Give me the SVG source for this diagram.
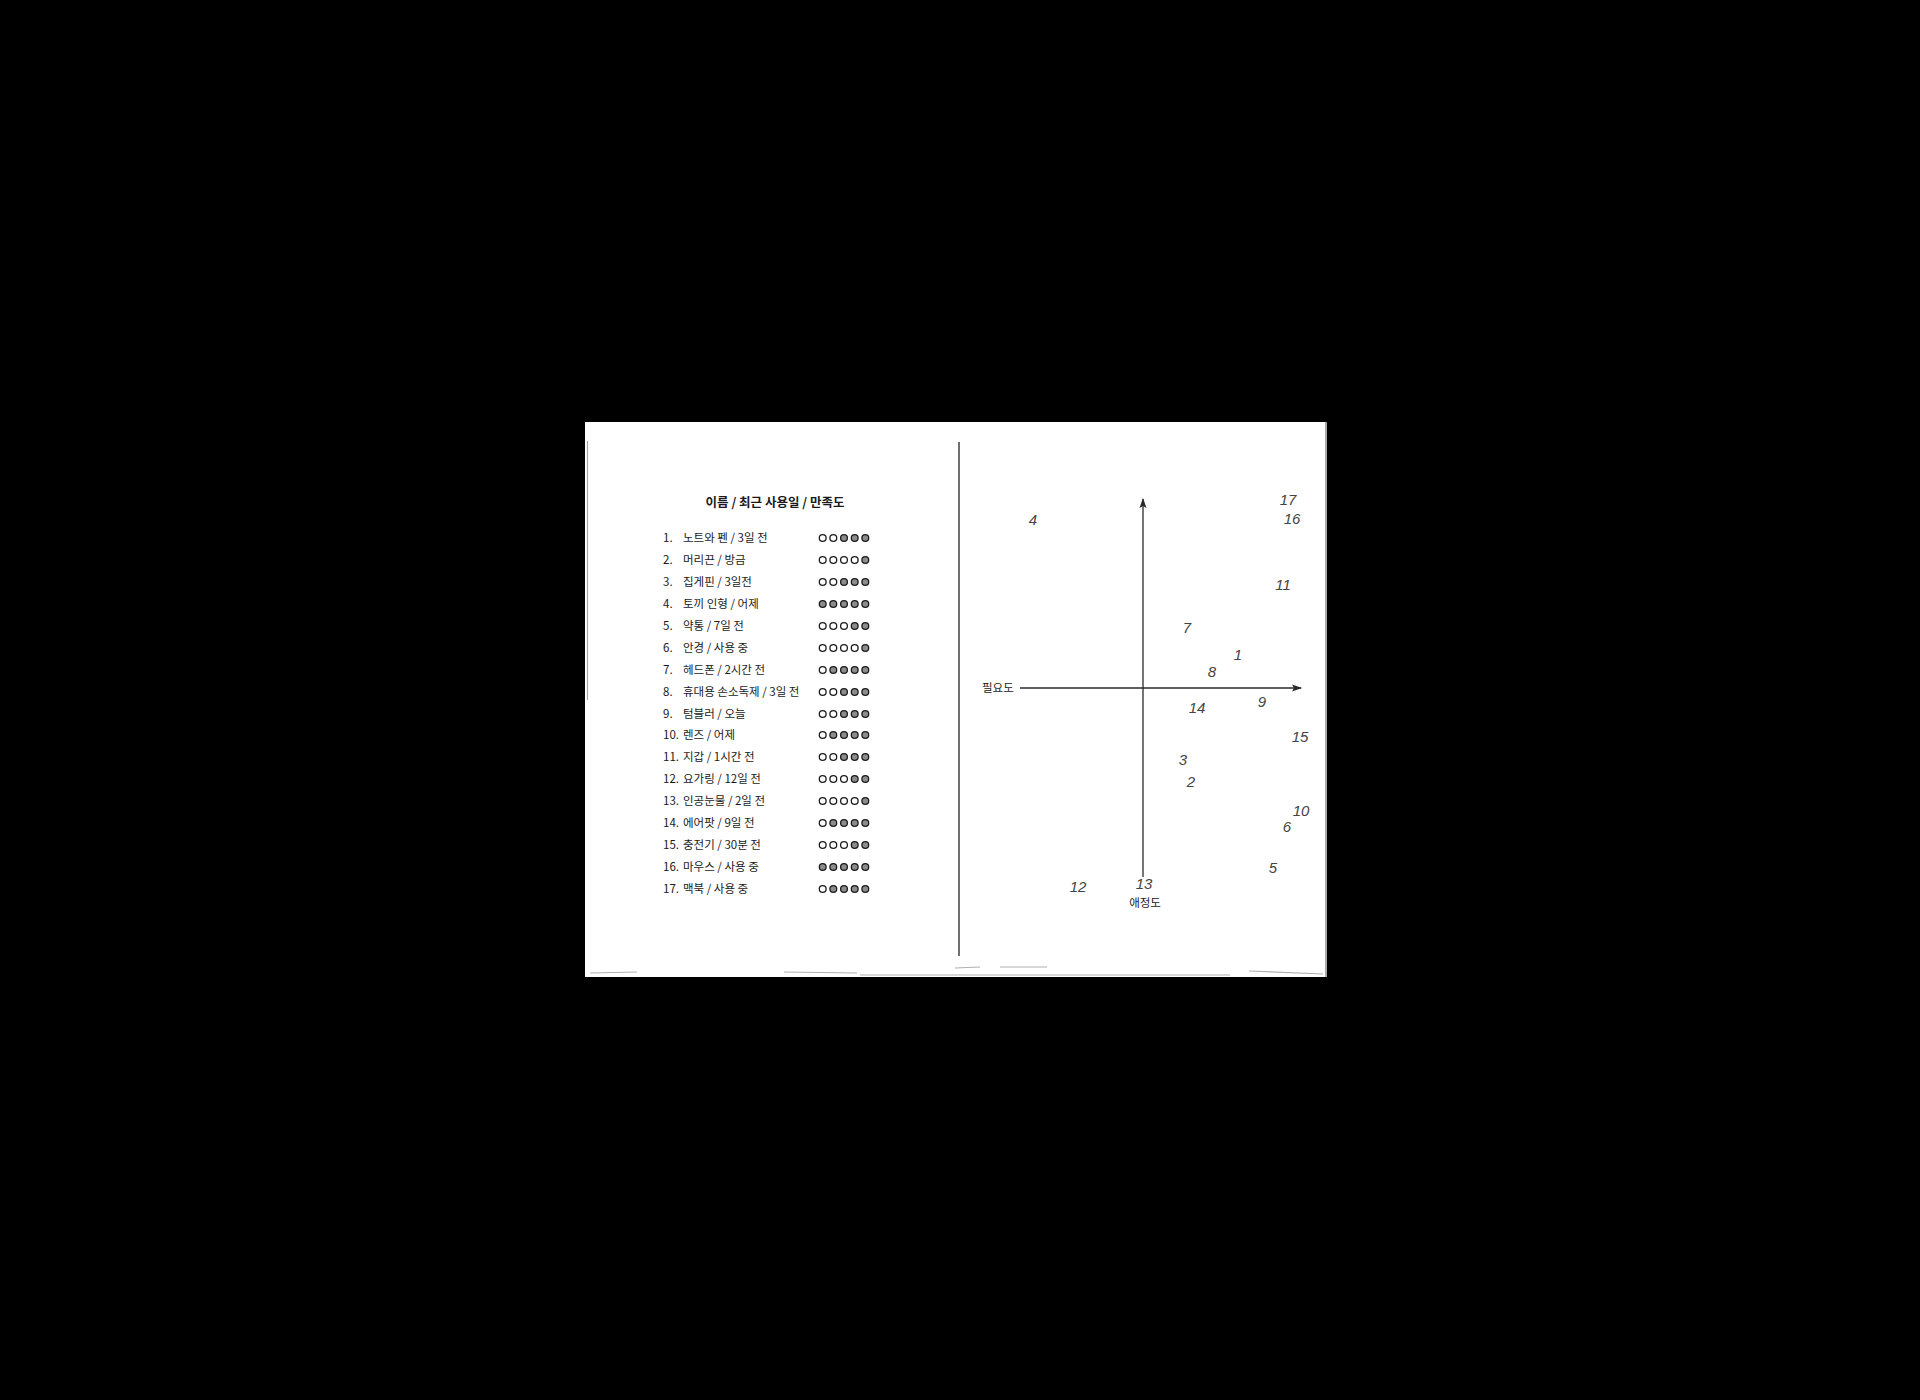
<svg xmlns="http://www.w3.org/2000/svg" width="1920" height="1400" viewBox="0 0 1920 1400">
<defs>
<style>
.t{font-family:"Noto Sans CJK KR","Noto Sans",sans-serif;fill:#1a1a1a}
.title{font-size:12.5px;font-weight:bold;text-anchor:middle}
.row{font-size:11.5px}
.lab{font-size:11.5px}
.hw{font-family:"Liberation Sans","DejaVu Sans",sans-serif;font-style:italic;font-size:15px;fill:#444;text-anchor:middle}
.e{fill:#fff;stroke:#1c1c1c;stroke-width:1.3}
.f{fill:#8c8c8c;stroke:#1c1c1c;stroke-width:1.3}
.ax{stroke:#2a2a2a;stroke-width:1.3;fill:none}
.smudge{stroke:#b0b0b0;stroke-width:1.2;fill:none}
</style>
<marker id="arr" viewBox="0 0 10 8" refX="9" refY="4" markerWidth="10" markerHeight="8" markerUnits="userSpaceOnUse" orient="auto">
<path d="M0,0.5 L10,4 L0,7.5 L2,4 Z" fill="#2a2a2a"/>
</marker>
</defs>
<rect x="0" y="0" width="1920" height="1400" fill="#000"/>
<g id="paper">
<rect x="585" y="422" width="742" height="555" fill="#fff"/>
<line x1="587.5" y1="441" x2="587.5" y2="700" stroke="#a8a8a8" stroke-width="1.2"/>
<line x1="1326" y1="422" x2="1326" y2="977" stroke="#555" stroke-width="1"/>
<path class="smudge" d="M590,973 L637,972"/>
<path class="smudge" d="M784,972 L857,973"/>
<path class="smudge" d="M955,968 L980,967"/>
<path class="smudge" d="M1000,967 L1047,967"/>
<path class="smudge" d="M860,975 L1230,975" stroke-width="0.6" stroke="#d0d0d0"/>
<path class="smudge" d="M1249,971 L1323,974" stroke-width="1.8"/>
<line id="divider" x1="959" y1="442" x2="959" y2="956" stroke="#222" stroke-width="1.3"/>
</g>
<g id="title"><text class="t title" x="775" y="507">이름 / 최근 사용일 / 만족도</text></g>
<g id="list">
<g id="r1"><text class="t row" x="663" y="542">1.</text><text class="t row" x="683" y="542">노트와 펜 / 3일 전</text></g>
<g id="r2"><text class="t row" x="663" y="564">2.</text><text class="t row" x="683" y="564">머리끈 / 방금</text></g>
<g id="r3"><text class="t row" x="663" y="586">3.</text><text class="t row" x="683" y="586">집게핀 / 3일전</text></g>
<g id="r4"><text class="t row" x="663" y="608">4.</text><text class="t row" x="683" y="608">토끼 인형 / 어제</text></g>
<g id="r5"><text class="t row" x="663" y="630">5.</text><text class="t row" x="683" y="630">약통 / 7일 전</text></g>
<g id="r6"><text class="t row" x="663" y="652">6.</text><text class="t row" x="683" y="652">안경 / 사용 중</text></g>
<g id="r7"><text class="t row" x="663" y="674">7.</text><text class="t row" x="683" y="674">헤드폰 / 2시간 전</text></g>
<g id="r8"><text class="t row" x="663" y="696">8.</text><text class="t row" x="683" y="696">휴대용 손소독제 / 3일 전</text></g>
<g id="r9"><text class="t row" x="663" y="718">9.</text><text class="t row" x="683" y="718">텀블러 / 오늘</text></g>
<g id="r10"><text class="t row" x="663" y="739">10.</text><text class="t row" x="683" y="739">렌즈 / 어제</text></g>
<g id="r11"><text class="t row" x="663" y="761">11.</text><text class="t row" x="683" y="761">지갑 / 1시간 전</text></g>
<g id="r12"><text class="t row" x="663" y="783">12.</text><text class="t row" x="683" y="783">요가링 / 12일 전</text></g>
<g id="r13"><text class="t row" x="663" y="805">13.</text><text class="t row" x="683" y="805">인공눈물 / 2일 전</text></g>
<g id="r14"><text class="t row" x="663" y="827">14.</text><text class="t row" x="683" y="827">에어팟 / 9일 전</text></g>
<g id="r15"><text class="t row" x="663" y="849">15.</text><text class="t row" x="683" y="849">충전기 / 30분 전</text></g>
<g id="r16"><text class="t row" x="663" y="871">16.</text><text class="t row" x="683" y="871">마우스 / 사용 중</text></g>
<g id="r17"><text class="t row" x="663" y="893">17.</text><text class="t row" x="683" y="893">맥북 / 사용 중</text></g>
</g>
<g id="ratings">
<g id="c1"><circle class="e" cx="822.7" cy="538" r="3.4"/><circle class="e" cx="833.3" cy="538" r="3.4"/><circle class="f" cx="844" cy="538" r="3.4"/><circle class="f" cx="854.7" cy="538" r="3.4"/><circle class="f" cx="865.3" cy="538" r="3.4"/></g>
<g id="c2"><circle class="e" cx="822.7" cy="560" r="3.4"/><circle class="e" cx="833.3" cy="560" r="3.4"/><circle class="e" cx="844" cy="560" r="3.4"/><circle class="e" cx="854.7" cy="560" r="3.4"/><circle class="f" cx="865.3" cy="560" r="3.4"/></g>
<g id="c3"><circle class="e" cx="822.7" cy="582" r="3.4"/><circle class="e" cx="833.3" cy="582" r="3.4"/><circle class="f" cx="844" cy="582" r="3.4"/><circle class="f" cx="854.7" cy="582" r="3.4"/><circle class="f" cx="865.3" cy="582" r="3.4"/></g>
<g id="c4"><circle class="f" cx="822.7" cy="604" r="3.4"/><circle class="f" cx="833.3" cy="604" r="3.4"/><circle class="f" cx="844" cy="604" r="3.4"/><circle class="f" cx="854.7" cy="604" r="3.4"/><circle class="f" cx="865.3" cy="604" r="3.4"/></g>
<g id="c5"><circle class="e" cx="822.7" cy="626" r="3.4"/><circle class="e" cx="833.3" cy="626" r="3.4"/><circle class="e" cx="844" cy="626" r="3.4"/><circle class="f" cx="854.7" cy="626" r="3.4"/><circle class="f" cx="865.3" cy="626" r="3.4"/></g>
<g id="c6"><circle class="e" cx="822.7" cy="648" r="3.4"/><circle class="e" cx="833.3" cy="648" r="3.4"/><circle class="e" cx="844" cy="648" r="3.4"/><circle class="e" cx="854.7" cy="648" r="3.4"/><circle class="f" cx="865.3" cy="648" r="3.4"/></g>
<g id="c7"><circle class="e" cx="822.7" cy="670" r="3.4"/><circle class="f" cx="833.3" cy="670" r="3.4"/><circle class="f" cx="844" cy="670" r="3.4"/><circle class="f" cx="854.7" cy="670" r="3.4"/><circle class="f" cx="865.3" cy="670" r="3.4"/></g>
<g id="c8"><circle class="e" cx="822.7" cy="692" r="3.4"/><circle class="e" cx="833.3" cy="692" r="3.4"/><circle class="f" cx="844" cy="692" r="3.4"/><circle class="f" cx="854.7" cy="692" r="3.4"/><circle class="f" cx="865.3" cy="692" r="3.4"/></g>
<g id="c9"><circle class="e" cx="822.7" cy="714" r="3.4"/><circle class="e" cx="833.3" cy="714" r="3.4"/><circle class="f" cx="844" cy="714" r="3.4"/><circle class="f" cx="854.7" cy="714" r="3.4"/><circle class="f" cx="865.3" cy="714" r="3.4"/></g>
<g id="c10"><circle class="e" cx="822.7" cy="735" r="3.4"/><circle class="f" cx="833.3" cy="735" r="3.4"/><circle class="f" cx="844" cy="735" r="3.4"/><circle class="f" cx="854.7" cy="735" r="3.4"/><circle class="f" cx="865.3" cy="735" r="3.4"/></g>
<g id="c11"><circle class="e" cx="822.7" cy="757" r="3.4"/><circle class="e" cx="833.3" cy="757" r="3.4"/><circle class="f" cx="844" cy="757" r="3.4"/><circle class="f" cx="854.7" cy="757" r="3.4"/><circle class="f" cx="865.3" cy="757" r="3.4"/></g>
<g id="c12"><circle class="e" cx="822.7" cy="779" r="3.4"/><circle class="e" cx="833.3" cy="779" r="3.4"/><circle class="e" cx="844" cy="779" r="3.4"/><circle class="f" cx="854.7" cy="779" r="3.4"/><circle class="f" cx="865.3" cy="779" r="3.4"/></g>
<g id="c13"><circle class="e" cx="822.7" cy="801" r="3.4"/><circle class="e" cx="833.3" cy="801" r="3.4"/><circle class="e" cx="844" cy="801" r="3.4"/><circle class="e" cx="854.7" cy="801" r="3.4"/><circle class="f" cx="865.3" cy="801" r="3.4"/></g>
<g id="c14"><circle class="e" cx="822.7" cy="823" r="3.4"/><circle class="f" cx="833.3" cy="823" r="3.4"/><circle class="f" cx="844" cy="823" r="3.4"/><circle class="f" cx="854.7" cy="823" r="3.4"/><circle class="f" cx="865.3" cy="823" r="3.4"/></g>
<g id="c15"><circle class="e" cx="822.7" cy="845" r="3.4"/><circle class="e" cx="833.3" cy="845" r="3.4"/><circle class="e" cx="844" cy="845" r="3.4"/><circle class="f" cx="854.7" cy="845" r="3.4"/><circle class="f" cx="865.3" cy="845" r="3.4"/></g>
<g id="c16"><circle class="f" cx="822.7" cy="867" r="3.4"/><circle class="f" cx="833.3" cy="867" r="3.4"/><circle class="f" cx="844" cy="867" r="3.4"/><circle class="f" cx="854.7" cy="867" r="3.4"/><circle class="f" cx="865.3" cy="867" r="3.4"/></g>
<g id="c17"><circle class="e" cx="822.7" cy="889" r="3.4"/><circle class="f" cx="833.3" cy="889" r="3.4"/><circle class="f" cx="844" cy="889" r="3.4"/><circle class="f" cx="854.7" cy="889" r="3.4"/><circle class="f" cx="865.3" cy="889" r="3.4"/></g>
</g>
<g id="connectors">
<line id="axis-x" class="ax" x1="1020" y1="688" x2="1301" y2="688" marker-end="url(#arr)"/>
<line id="axis-y" class="ax" x1="1143" y1="877" x2="1143" y2="499" marker-end="url(#arr)"/>
</g>
<g id="axis-labels">
<text id="lab-need" class="t lab" x="982" y="692">필요도</text>
<text id="lab-love" class="t lab" x="1145" y="907" text-anchor="middle">애정도</text>
</g>
<g id="points">
<text id="p4" class="hw" x="1033" y="525" font-size="17">4</text>
<text id="p17" class="hw" x="1288" y="505">17</text>
<text id="p16" class="hw" x="1292" y="524">16</text>
<text id="p11" class="hw" x="1283" y="590" fill="#666">11</text>
<text id="p7" class="hw" x="1187" y="633" font-size="18">7</text>
<text id="p1" class="hw" x="1238" y="660">1</text>
<text id="p8" class="hw" x="1212" y="677">8</text>
<text id="p14" class="hw" x="1197" y="713" fill="#999">14</text>
<text id="p9" class="hw" x="1262" y="707">9</text>
<text id="p15" class="hw" x="1300" y="742">15</text>
<text id="p3" class="hw" x="1183" y="765">3</text>
<text id="p2" class="hw" x="1191" y="787">2</text>
<text id="p10" class="hw" x="1301" y="816">10</text>
<text id="p6" class="hw" x="1287" y="832">6</text>
<text id="p5" class="hw" x="1273" y="873">5</text>
<text id="p12" class="hw" x="1078" y="892">12</text>
<text id="p13" class="hw" x="1144" y="889">13</text>
</g>
</svg>
